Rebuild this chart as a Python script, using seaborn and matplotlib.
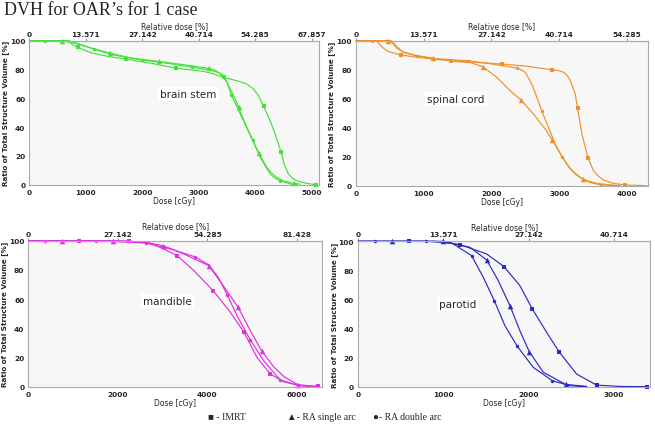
import matplotlib
matplotlib.use("Agg")
import matplotlib.pyplot as plt
import seaborn as sns
import pandas as pd

# ---- data (dose in cGy, volume in %) ----
plans = ["IMRT", "RA single arc", "RA double arc"]
plan_markers = {"IMRT": "s", "RA single arc": "^", "RA double arc": "o"}
plan_sizes = {"IMRT": 12, "RA single arc": 16, "RA double arc": 6}

# brain stem
bs_imrt_dose = [0, 600, 700, 853, 1100, 1400, 1706, 2200, 2588, 3088, 3265, 3441, 3676, 3853, 3960, 4059, 4147, 4265, 4353, 4459, 4512, 4588, 4660, 4735, 4912, 5076]
bs_imrt_vol = [100, 100, 99, 95.4, 91.5, 89, 87.3, 84, 81.0, 78.7, 76.9, 74.5, 72.2, 69.9, 66.8, 61.8, 54.4, 44.4, 35.2, 22.5, 14.4, 7.4, 4.5, 2.8, 0.9, 0]
bs_imrt_marks = [3, 6, 8, 11, 16, 19, 25]
bs_single_dose = [0, 576, 700, 1000, 1424, 1800, 2294, 2800, 3176, 3300, 3382, 3500, 3618, 3706, 3824, 3941, 4059, 4206, 4300, 4382, 4500, 4688, 4800]
bs_single_vol = [100, 100, 99.5, 96, 91.4, 88, 85.6, 83, 80.8, 79.3, 76.9, 71.1, 61.8, 53.7, 42.1, 31.7, 22.0, 12.0, 7.8, 5.1, 2.6, 0.9, 0.4]
bs_single_marks = [1, 4, 6, 8, 13, 16, 21]
bs_double_dose = [0, 282, 700, 900, 1135, 1500, 2000, 2500, 2882, 3206, 3380, 3441, 3500, 3576, 3735, 3959, 4088, 4265, 4360, 4441, 4618, 4750]
bs_double_vol = [100, 100, 100, 97.5, 94.2, 90, 86.6, 84, 81.5, 79.6, 77.4, 75.7, 71.0, 62.5, 49.1, 31.0, 19.0, 7.4, 4.4, 2.8, 0.5, 0]
bs_double_marks = [1, 4, 6, 8, 13, 15, 19]

# spinal cord
sc_imrt_dose = [0, 300, 340, 400, 480, 665, 1000, 1404, 1800, 2153, 2500, 2892, 2990, 3064, 3120, 3163, 3236, 3271, 3335, 3424, 3507, 3580, 3655, 3800, 3975, 4296]
sc_imrt_vol = [100, 100, 98, 95, 92.5, 90.1, 88, 86.2, 85, 83.9, 82.5, 80.0, 79.4, 78.2, 76.0, 72.4, 63.2, 53.3, 35.6, 19.1, 10.3, 6.4, 3.9, 1.6, 0.5, 0]
sc_imrt_marks = [5, 7, 9, 11, 17, 19, 24]
sc_single_dose = [0, 478, 540, 600, 700, 850, 1143, 1500, 1685, 1872, 2079, 2276, 2433, 2621, 2793, 2897, 2990, 3113, 3236, 3350, 3557, 3754, 3900]
sc_single_vol = [100, 100, 98.5, 95, 92, 90, 87.8, 85.5, 85, 82.1, 74.7, 65.5, 59.1, 49.4, 39.1, 31.5, 24.1, 14.9, 8.0, 4.4, 1.6, 0.5, 0]
sc_single_marks = [1, 6, 9, 12, 15, 19]
sc_double_dose = [0, 231, 520, 580, 680, 897, 1200, 1650, 2000, 2374, 2440, 2498, 2596, 2670, 2744, 2842, 2941, 3039, 3163, 3310, 3450, 3621, 3901]
sc_double_vol = [100, 100, 100, 97, 92.5, 89.7, 87.5, 86.2, 84, 81.1, 80.0, 78.2, 70.1, 60.9, 51.3, 40.2, 28.7, 20.0, 11.5, 5.7, 2.2, 0.5, 0]
sc_double_marks = [1, 5, 7, 9, 14, 17, 21]

# mandible
md_imrt_dose = [0, 1136, 2249, 2732, 3029, 3326, 3697, 4128, 4514, 4811, 5107, 5405, 5702, 6073, 6481]
md_imrt_vol = [100, 100, 99.8, 98.2, 94.3, 89.7, 79.5, 65.8, 50.9, 37.7, 20.1, 8.7, 3.4, 0.7, 0.2]
md_imrt_marks = [1, 2, 5, 7, 9, 11, 14]
md_single_dose = [0, 742, 1878, 2600, 3014, 3474, 4031, 4328, 4677, 4959, 5219, 5494, 5717, 6021, 6444]
md_single_vol = [100, 100, 100, 99, 96.6, 90.9, 82.9, 70.3, 54.8, 38.4, 24.2, 13.2, 6.8, 1.4, 0.2]
md_single_marks = [1, 2, 4, 6, 8, 10, 13]
md_double_dose = [0, 371, 1507, 2621, 3177, 3719, 4031, 4250, 4440, 4662, 4959, 5256, 5627, 6013, 6310]
md_double_vol = [100, 100, 100, 98.4, 94.3, 89.0, 83.5, 74.5, 63.0, 48.6, 32.0, 17.8, 4.6, 1.1, 0]
md_double_marks = [1, 2, 3, 5, 8, 10, 12]

# parotid
pa_imrt_dose = [0, 599, 900, 1195, 1508, 1712, 1899, 2045, 2213, 2358, 2565, 2800, 3075, 3388]
pa_imrt_vol = [100, 100, 100, 97.7, 91.3, 82.6, 69.5, 53.4, 37.4, 24.1, 8.7, 1.1, 0.2, 0]
pa_imrt_marks = [1, 3, 5, 7, 9, 11, 13]
pa_single_dose = [0, 392, 991, 1312, 1508, 1645, 1782, 1899, 2009, 2174, 2436, 2683]
pa_single_vol = [100, 100, 100, 95.9, 87.2, 72.9, 55.7, 38.5, 24.1, 9.9, 1.6, 0.2]
pa_single_marks = [1, 2, 4, 6, 8, 10]
pa_double_dose = [0, 196, 795, 1100, 1332, 1469, 1598, 1723, 1868, 2056, 2280, 2487, 2683]
pa_double_vol = [100, 100, 100, 98.8, 90.1, 75.2, 59.2, 42.0, 27.8, 13.3, 4.1, 0.7, 0]
pa_double_marks = [1, 2, 4, 6, 8, 10]

bs_ticks = [0, 1000, 2000, 3000, 4000, 5000]
bs_rel = ["0", "13.571", "27.142", "40.714", "54.285", "67.857"]
sc_ticks = [0, 1000, 2000, 3000, 4000]
sc_rel = ["0", "13.571", "27.142", "40.714", "54.285"]
md_ticks = [0, 2000, 4000, 6000]
md_rel = ["0", "27.142", "54.285", "81.428"]
pa_ticks = [0, 1000, 2000, 3000]
pa_rel = ["0", "13.571", "27.142", "40.714"]

sns.set_style("white")
plt.rcParams["font.family"] = ["DejaVu Sans"]

fig = plt.figure(figsize=(6.55, 4.35), dpi=100)


def plot_organ(rect, name, curves, colour, xmax, ticks, rel, label_at):
    ax = fig.add_axes(rect)
    ax.set_facecolor("#f7f7f7")
    for plan, dose, vol, marks in curves:
        df = pd.DataFrame({"dose": dose, "vol": vol})
        sns.lineplot(data=df, x="dose", y="vol", ax=ax, color=colour, lw=0.85,
                     sort=False, estimator=None)
        sns.scatterplot(data=df.iloc[marks], x="dose", y="vol", ax=ax, color=colour,
                        marker=plan_markers[plan], s=plan_sizes[plan], linewidth=0)
    for art in ax.lines + ax.collections:
        art.set_clip_on(False)
    ax.set_xlim(0, xmax)
    ax.set_ylim(0, 100)
    ax.set_xticks(ticks)
    ax.set_yticks([0, 20, 40, 60, 80, 100])
    ax.tick_params(labelsize=5.3, length=2, pad=1.0, color="#999999")
    for t in ax.get_xticklabels() + ax.get_yticklabels():
        t.set_fontweight("bold")
    ax.set_xlabel("Dose [cGy]", fontsize=5.5, labelpad=1)
    ax.set_ylabel("Ratio of Total Structure Volume [%]", fontsize=5.2, labelpad=0.8,
                  fontweight="bold")
    for sp in ax.spines.values():
        sp.set_color("#aaaaaa")
        sp.set_linewidth(0.8)
    top = ax.secondary_xaxis("top")
    top.set_xticks(ticks, labels=rel)
    top.tick_params(labelsize=5.3, length=2, pad=1.0, color="#999999")
    for t in top.get_xticklabels():
        t.set_fontweight("bold")
    top.set_xlabel("Relative dose [%]", fontsize=5.5, labelpad=1.5)
    top.spines["top"].set_color("#aaaaaa")
    ax.text(label_at[0], label_at[1], name, fontsize=7.5, ha="center", va="center",
            bbox=dict(facecolor="white", edgecolor="none", pad=1.5))
    return ax


plot_organ([0.0450, 0.5731, 0.4420, 0.331], "brain stem",
           [("IMRT", bs_imrt_dose, bs_imrt_vol, bs_imrt_marks),
            ("RA single arc", bs_single_dose, bs_single_vol, bs_single_marks),
            ("RA double arc", bs_double_dose, bs_double_vol, bs_double_marks)],
           "#45e03c", 5130, bs_ticks, bs_rel, (2818, 63))
plot_organ([0.5435, 0.5708, 0.4458, 0.3333], "spinal cord",
           [("IMRT", sc_imrt_dose, sc_imrt_vol, sc_imrt_marks),
            ("RA single arc", sc_single_dose, sc_single_vol, sc_single_marks),
            ("RA double arc", sc_double_dose, sc_double_vol, sc_double_marks)],
           "#f0902a", 4310, sc_ticks, sc_rel, (1478, 60))
plot_organ([0.0435, 0.1087, 0.4477, 0.3356], "mandible",
           [("IMRT", md_imrt_dose, md_imrt_vol, md_imrt_marks),
            ("RA single arc", md_single_dose, md_single_vol, md_single_marks),
            ("RA double arc", md_double_dose, md_double_vol, md_double_marks)],
           "#e030e0", 6555, md_ticks, md_rel, (3110, 59))
plot_organ([0.547, 0.1087, 0.4453, 0.3343], "parotid",
           [("IMRT", pa_imrt_dose, pa_imrt_vol, pa_imrt_marks),
            ("RA single arc", pa_single_dose, pa_single_vol, pa_single_marks),
            ("RA double arc", pa_double_dose, pa_double_vol, pa_double_marks)],
           "#2a2ac0", 3427, pa_ticks, pa_rel, (1167, 57))

serif = ["Liberation Serif", "DejaVu Serif"]
fig.text(0.006, 0.995, "DVH for OAR’s for 1 case", fontsize=13, family=serif,
         ha="left", va="top")
legend_items = ["■ - IMRT", "▲- RA single arc", "●- RA double arc"]
legend_x = [208, 287, 373]
for txt, x in zip(legend_items, legend_x):
    fig.text(x / 655, 1 - 418 / 435, txt, fontsize=7, family=serif, ha="left", va="center")

fig.savefig("out.png", dpi=100)
